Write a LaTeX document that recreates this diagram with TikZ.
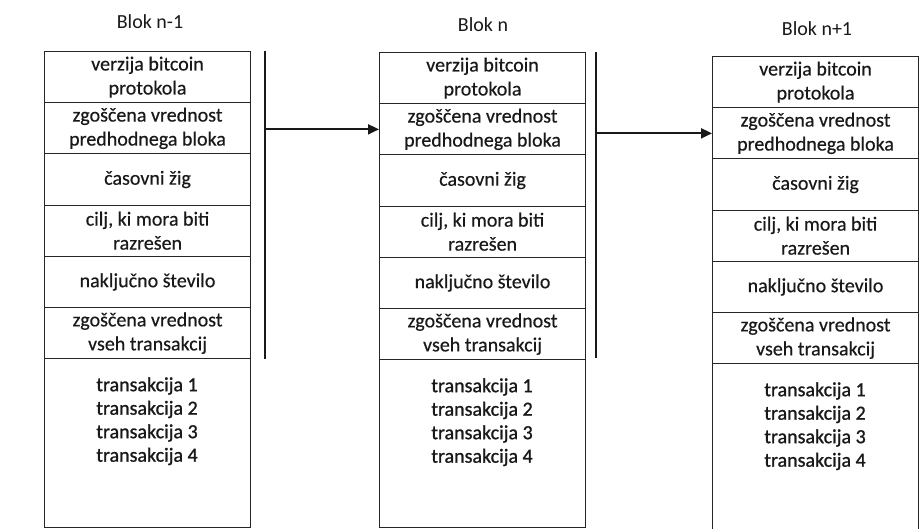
\documentclass[tikz,border=0pt]{standalone}
\usepackage{fontspec}
\setmainfont{Carlito}
\newfontfamily\fieldfont{Carlito}[FakeBold=0.4]
\newfontfamily\txfont{Carlito}[FakeBold=1]
\usetikzlibrary{arrows.meta}
\begin{document}
\begin{tikzpicture}[x=1pt,y=-1pt,
  field/.style={draw=black!85, line width=1.1pt, minimum width=206pt,
    minimum height=51.2pt, inner sep=0pt, align=center, anchor=north west,
    font=\fieldfont\fontsize{20}{24}\selectfont, text=black!90},
  txbox/.style={draw=black!85, line width=1.1pt, minimum width=206pt,
    minimum height=168pt, inner sep=0pt, anchor=north west},
  txtext/.style={align=center, inner sep=0pt,
    font=\txfont\fontsize{20}{23.5}\selectfont, text=black!90},
  title/.style={font=\fontsize{20}{24}\selectfont, text=black!90},
  bar/.style={line width=2pt, black!90},
  link/.style={line width=2pt, black!90, -{Triangle[length=11pt,width=10pt]}}
]
\useasboundingbox (0,0) rectangle (921,529);
\fill[white] (0,0) rectangle (921,529);

% one block: #1 name prefix, (#2,#3) top-left corner, #4 bottom of transaction box
\newcommand{\chainblock}[4]{%
  \node[field] (#1r1) at (#2,#3) {verzija bitcoin\\protokola};
  \node[field] (#1r2) at (#2,#3+51.2) {zgoščena vrednost\\predhodnega bloka};
  \node[field] (#1r3) at (#2,#3+102.4) {časovni žig};
  \node[field] (#1r4) at (#2,#3+153.6) {cilj, ki mora biti\\razrešen};
  \node[field] (#1r5) at (#2,#3+204.8) {naključno število};
  \node[field] (#1r6) at (#2,#3+256) {zgoščena vrednost\\vseh transakcij};
  \node[txbox, minimum height=#4-#3-307.2] (#1tx) at (#2,#3+307.2) {};
  \node[txtext] (#1txt) at (#2+103,#3+307.2+63)
    {transakcija 1\\transakcija 2\\transakcija 3\\transakcija 4};
}

\chainblock{a}{44}{51}{527}
\chainblock{b}{379}{52}{527}
\chainblock{c}{712}{56}{529}

\node[title] (ta) at (150,22) {Blok n-1};
\node[title] (tb) at (483,25) {Blok n};
\node[title] (tc) at (817,29) {Blok n+1};

% header bars next to each block
\coordinate (bartopA) at (265,51);
\coordinate (barbotA) at (265,359);
\coordinate (bartopB) at (596,52);
\coordinate (barbotB) at (596,358);
\draw[bar] (bartopA) -- (barbotA);
\draw[bar] (bartopB) -- (barbotB);

% links to the previous-block hash field
\draw[link] (bartopA |- br2.west) -- (br2.west);
\draw[link] (bartopB |- cr2.west) -- (cr2.west);
\end{tikzpicture}
\end{document}
